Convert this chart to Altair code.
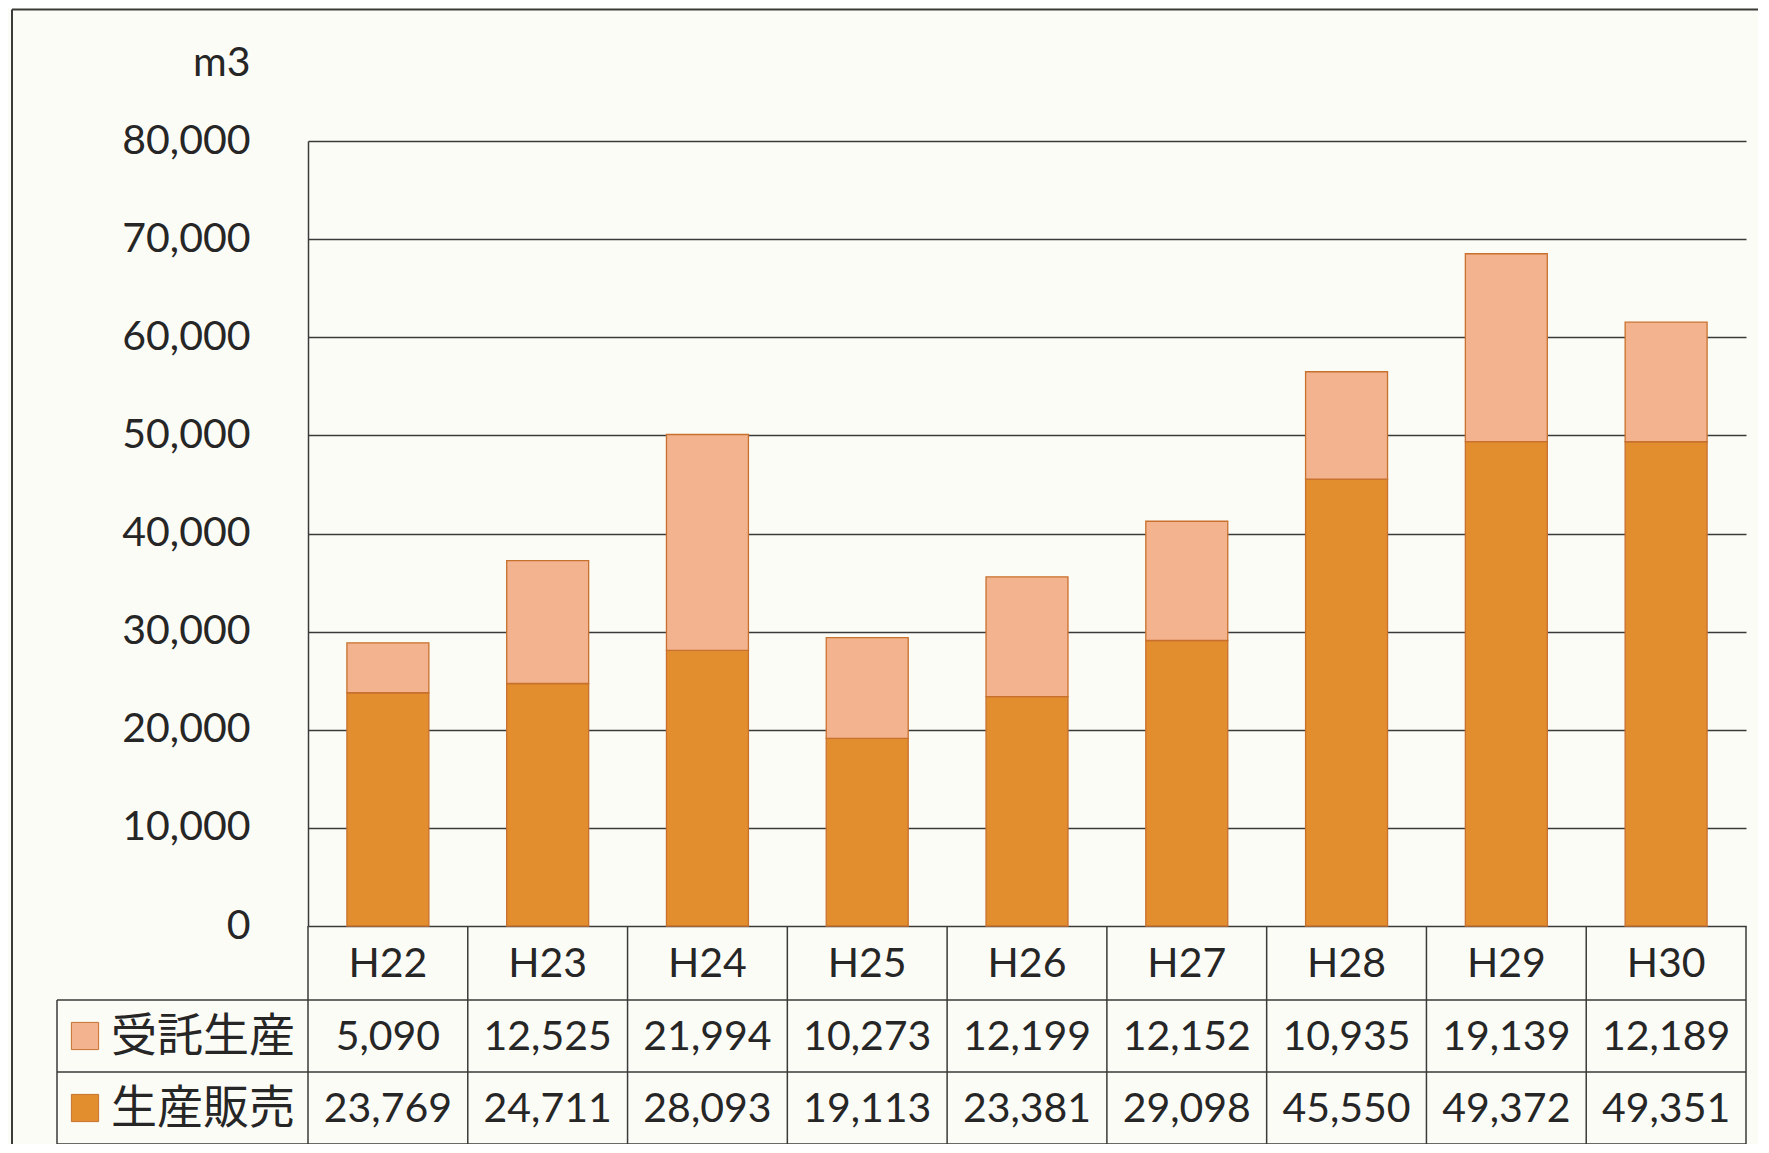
import altair as alt
import pandas as pd

# ---------------- data ----------------
years = ["H22", "H23", "H24", "H25", "H26", "H27", "H28", "H29", "H30"]
jutaku = [5090, 12525, 21994, 10273, 12199, 12152, 10935, 19139, 12189]   # 受託生産
seisan = [23769, 24711, 28093, 19113, 23381, 29098, 45550, 49372, 49351]  # 生産販売
series = ["受託生産", "生産販売"]
y_ticks = [0, 10000, 20000, 30000, 40000, 50000, 60000, 70000, 80000]
unit_label = "m3"

# ---------------- style / layout ----------------
LIGHT = "#F2B38E"
DARK = "#E38E2E"
EDGE = "#C8712F"
INK = "#262626"
LINE = "#3a3a3a"
BG = "#FCFCF7"
FONT = "Lato"
JFONT = "Noto Sans CJK JP"
FS = 41

W, H = 1438, 785
STEP = W / len(years)
P_IN = 0.487

ROW_HEAD = (H, H + 74)
ROW_1 = (H + 74, H + 146)
ROW_2 = (H + 146, H + 218)
LEG_LEFT = -251
FRAME_X = -296
FRAME_Y = -131.5

rows = []
for i, yr in enumerate(years):
    rows.append({"year": yr, "series": series[1], "value": seisan[i], "ord": 0})
    rows.append({"year": yr, "series": series[0], "value": jutaku[i], "ord": 1})
bars_df = pd.DataFrame(rows)
tbl_df = pd.DataFrame({"year": years, "jutaku": jutaku, "seisan": seisan})
one = pd.DataFrame({"k": [0]})

xscale = alt.Scale(domain=years, paddingInner=P_IN, paddingOuter=P_IN / 2)
color_scale = alt.Scale(domain=series, range=[LIGHT, DARK])
X = alt.X("year:N", sort=years, scale=xscale, axis=None)

bars = alt.Chart(bars_df).mark_bar(stroke=EDGE, strokeWidth=1.3).encode(
    x=X,
    y=alt.Y(
        "value:Q",
        stack="zero",
        scale=alt.Scale(domain=[0, 80000], nice=False),
        axis=alt.Axis(
            values=y_ticks,
            format=",d",
            title=unit_label,
            titleAngle=0,
            titleAlign="right",
            titleBaseline="middle",
            titleX=-58,
            titleY=-78,
            titleFont=FONT,
            titleFontSize=FS,
            titleFontWeight="normal",
            titleColor=INK,
            labelFont=FONT,
            labelFontSize=FS,
            labelColor=INK,
            labelPadding=58,
            ticks=False,
            tickSize=0,
            domain=True,
            domainColor=LINE,
            domainWidth=1.5,
            grid=True,
            gridColor=LINE,
            gridWidth=1.5,
            gridOpacity=1,
        ),
    ),
    color=alt.Color("series:N", scale=color_scale, legend=None),
    order=alt.Order("ord:Q"),
)

# table texts
head_txt = alt.Chart(tbl_df).mark_text(font=FONT, fontSize=FS, color=INK, baseline="middle", align="center").encode(
    x=X, text="year:N", y=alt.value(sum(ROW_HEAD) / 2 + 2)
)
r1_txt = alt.Chart(tbl_df).mark_text(font=FONT, fontSize=FS, color=INK, baseline="middle", align="center").encode(
    x=X, text=alt.Text("jutaku:Q", format=",d"), y=alt.value(sum(ROW_1) / 2 + 2)
)
r2_txt = alt.Chart(tbl_df).mark_text(font=FONT, fontSize=FS, color=INK, baseline="middle", align="center").encode(
    x=X, text=alt.Text("seisan:Q", format=",d"), y=alt.value(sum(ROW_2) / 2 + 2)
)

# legend labels and swatches
leg_layers = []
for name, (y0, y1) in zip(series, [ROW_1, ROW_2]):
    d = pd.DataFrame({"series": [name]})
    yc = (y0 + y1) / 2
    leg_layers.append(
        alt.Chart(d).mark_square(size=740, opacity=1, stroke=EDGE, strokeWidth=1).encode(
            x=alt.value(-223), y=alt.value(yc),
            color=alt.Color("series:N", scale=color_scale, legend=None),
        )
    )
    leg_layers.append(
        alt.Chart(d).mark_text(font=JFONT, fontSize=46, color=INK, align="left", baseline="middle").encode(
            x=alt.value(-197), y=alt.value(yc + 1), text="series:N"
        )
    )

# table grid lines
def hline(x0, x1, y):
    return alt.Chart(one).mark_rule(color=LINE, strokeWidth=1.5).encode(
        x=alt.value(x0), x2=alt.value(x1), y=alt.value(y)
    )

def vline(x, y0, y1):
    return alt.Chart(one).mark_rule(color=LINE, strokeWidth=1.5).encode(
        x=alt.value(x), y=alt.value(y0), y2=alt.value(y1)
    )

col_lines = alt.Chart(tbl_df).mark_rule(color=LINE, strokeWidth=1.5, xOffset=-STEP / 2).encode(
    x=X, y=alt.value(ROW_HEAD[0]), y2=alt.value(ROW_2[1])
)

grid_layers = [
    col_lines,
    vline(W, ROW_HEAD[0], ROW_2[1]),
    vline(LEG_LEFT, ROW_1[0], ROW_2[1]),
    hline(LEG_LEFT, W, ROW_1[0]),
    hline(LEG_LEFT, W, ROW_2[0]),
    hline(LEG_LEFT, W, ROW_2[1]),
    # outer frame (top and left edges of the scanned page)
    alt.Chart(one).mark_rule(color=LINE, strokeWidth=2).encode(
        x=alt.value(FRAME_X), x2=alt.value(W + 20), y=alt.value(FRAME_Y)
    ),
    alt.Chart(one).mark_rule(color=LINE, strokeWidth=2).encode(
        x=alt.value(FRAME_X), y=alt.value(FRAME_Y), y2=alt.value(H + 240)
    ),
]

chart = alt.layer(bars, *grid_layers, head_txt, r1_txt, r2_txt, *leg_layers).properties(
    width=W,
    height=H,
    padding={"left": 300, "top": 133, "right": 12, "bottom": 218},
    autosize=alt.AutoSizeParams(type="none"),
    background=BG,
).configure_view(stroke=None)

chart.save("out.html", embed_options={"renderer": "svg", "actions": False})
